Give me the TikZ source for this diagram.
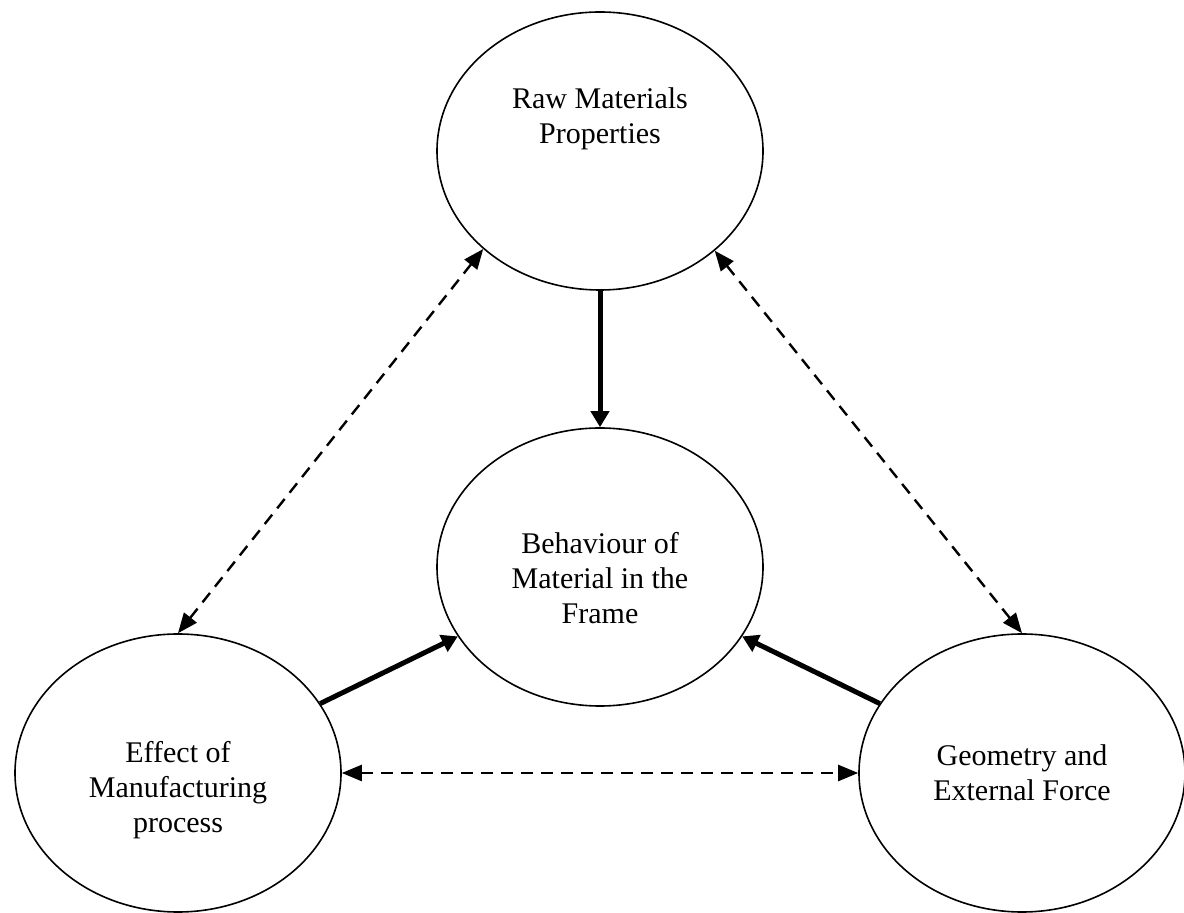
\documentclass[tikz,border=0pt]{standalone}
\usepackage{fontspec}
\setmainfont{Liberation Serif}
\usetikzlibrary{shapes.geometric,arrows.meta}
\tikzset{
  bubble/.style={draw, ellipse, line width=0.8pt, minimum width=163pt, minimum height=139pt,
    align=center, font=\fontsize{15}{17.5}\selectfont},
  feed/.style={line width=2.5pt, -{Triangle[length=8pt,width=9pt]}},
  link/.style={line width=1.2pt, dash pattern=on 6pt off 4pt,
    {Triangle[length=10pt,width=8pt]}-{Triangle[length=10pt,width=8pt]}}
}

\begin{document}
\begin{tikzpicture}[x=0.5pt,y=-0.5pt]
  \useasboundingbox (0,0) rectangle (1184,913);

  \node[bubble] (raw)   at (600,151)  {Raw Materials\\Properties\\[17.5pt]\mbox{}};
  \node[bubble] (frame) at (600,567)  {\mbox{}\\[4.5pt]Behaviour of\\Material in the\\Frame};
  \node[bubble] (manuf) at (178,773)  {\mbox{}\\[10.5pt]Effect of\\Manufacturing\\process};
  \node[bubble] (geom)  at (1022,773) {Geometry and\\External Force};

  \draw[feed] (raw) -- (frame);
  \draw[feed] (manuf) -- (frame);
  \draw[feed] (geom) -- (frame);

  \draw[link] (manuf.north) -- (raw.220);
  \draw[link] (geom.north) -- (raw.319);
  \draw[link] (manuf) -- (geom);

  % \draw[link] (raw.west) -- (manuf.north);
\end{tikzpicture}
\end{document}
